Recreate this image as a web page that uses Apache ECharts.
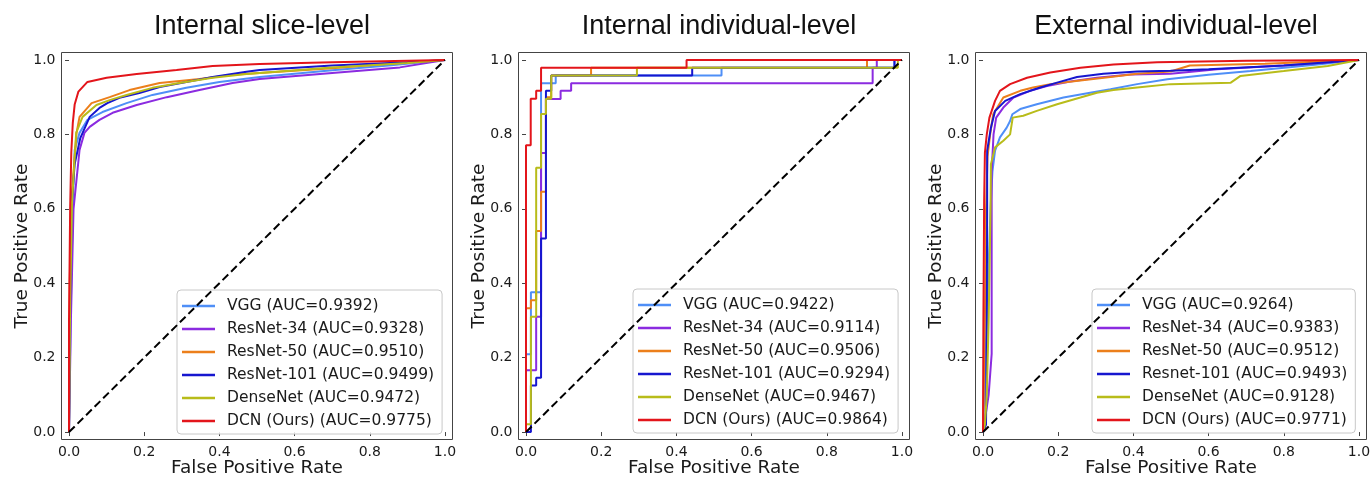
<!DOCTYPE html>
<html>
<head>
<meta charset="utf-8">
<script src="https://cdn.jsdelivr.net/npm/echarts@6/dist/echarts.min.js"></script>
<style>
  html, body { margin: 0; padding: 0; background: #fff; }
  #chart { width: 1371px; height: 480px; }
</style>
</head>
<body>
<div id="chart"></div>
<script>
// Panel titles and axis ticks
const panelTitles = ['Internal slice-level', 'Internal individual-level', 'External individual-level'];
const tickValues = [0, 0.2, 0.4, 0.6, 0.8, 1.0];

// Model names (legend order) per panel
const modelsSlice = ['VGG', 'ResNet-34', 'ResNet-50', 'ResNet-101', 'DenseNet', 'DCN (Ours)'];
const modelsInternal = ['VGG', 'ResNet-34', 'ResNet-50', 'ResNet-101', 'DenseNet', 'DCN (Ours)'];
const modelsExternal = ['VGG', 'ResNet-34', 'ResNet-50', 'Resnet-101', 'DenseNet', 'DCN (Ours)'];
const modelColors = ['#4f8ff7', '#8b2be0', '#ec7f1b', '#1616cf', '#b8bc1a', '#e3151b'];

// AUC values per panel
const aucSlice = [0.9392, 0.9328, 0.9510, 0.9499, 0.9472, 0.9775];
const aucInternal = [0.9422, 0.9114, 0.9506, 0.9294, 0.9467, 0.9864];
const aucExternal = [0.9264, 0.9383, 0.9512, 0.9493, 0.9128, 0.9771];

// ROC points [FPR, TPR] — internal slice-level
const sliceVgg = [[0,0],[0.004,0.3],[0.01,0.6],[0.015,0.758],[0.028,0.804],[0.049,0.839],[0.089,0.86],[0.153,0.884],[0.222,0.906],[0.312,0.925],[0.40,0.941],[0.507,0.954],[0.7,0.972],[0.85,0.985],[1,1]];
const sliceRes34 = [[0,0],[0.005,0.3],[0.012,0.6],[0.028,0.758],[0.041,0.804],[0.055,0.82],[0.081,0.839],[0.116,0.858],[0.18,0.879],[0.26,0.9],[0.347,0.919],[0.435,0.938],[0.507,0.949],[0.7,0.965],[0.88,0.98],[1,1]];
const sliceRes50 = [[0,0],[0.002,0.4],[0.006,0.62],[0.02,0.804],[0.028,0.847],[0.06,0.884],[0.108,0.9],[0.161,0.919],[0.241,0.938],[0.347,0.949],[0.435,0.96],[0.507,0.965],[0.7,0.978],[0.85,0.99],[1,1]];
const sliceRes101 = [[0,0],[0.003,0.35],[0.006,0.6],[0.015,0.72],[0.03,0.79],[0.055,0.847],[0.081,0.871],[0.102,0.884],[0.134,0.898],[0.187,0.911],[0.241,0.927],[0.312,0.941],[0.382,0.954],[0.472,0.968],[0.507,0.973],[0.7,0.985],[0.9,0.994],[1,1]];
const sliceDense = [[0,0],[0.003,0.35],[0.008,0.62],[0.019,0.804],[0.036,0.847],[0.073,0.879],[0.108,0.892],[0.153,0.906],[0.222,0.925],[0.294,0.938],[0.382,0.952],[0.472,0.962],[0.507,0.965],[0.7,0.98],[0.9,0.992],[1,1]];
const sliceDcn = [[0,0],[0,0.3],[0.003,0.6],[0.006,0.75],[0.01,0.83],[0.015,0.88],[0.025,0.915],[0.049,0.941],[0.1,0.952],[0.18,0.962],[0.286,0.973],[0.382,0.984],[0.507,0.989],[0.7,0.994],[1,1]];

// ROC points [FPR, TPR] — internal individual-level
const internalVgg = [[0,0],[0,0.209],[0.013,0.209],[0.013,0.376],[0.04,0.376],[0.04,0.9375],[0.079,0.9375],[0.079,0.958],[0.52,0.958],[0.52,0.979],[0.98,0.979],[0.98,1],[1,1]];
const internalRes34 = [[0,0],[0,0.166],[0.027,0.166],[0.027,0.31],[0.04,0.31],[0.04,0.75],[0.053,0.75],[0.053,0.895],[0.092,0.895],[0.092,0.917],[0.12,0.917],[0.12,0.9375],[0.922,0.9375],[0.922,0.979],[0.933,0.979],[0.933,1],[1,1]];
const internalRes50 = [[0,0],[0,0.333],[0.013,0.333],[0.013,0.354],[0.027,0.354],[0.027,0.54],[0.04,0.54],[0.04,0.646],[0.053,0.646],[0.053,0.9],[0.067,0.9],[0.067,0.958],[0.173,0.958],[0.173,0.979],[0.907,0.979],[0.907,1],[1,1]];
const internalRes101 = [[0,0],[0.013,0],[0.013,0.125],[0.027,0.125],[0.027,0.146],[0.04,0.146],[0.04,0.52],[0.053,0.52],[0.053,0.917],[0.067,0.917],[0.067,0.958],[0.442,0.958],[0.442,0.979],[0.98,0.979],[0.98,1],[1,1]];
const internalDense = [[0,0],[0,0.021],[0.013,0.021],[0.013,0.31],[0.027,0.31],[0.027,0.71],[0.04,0.71],[0.04,0.855],[0.053,0.855],[0.053,0.896],[0.067,0.896],[0.067,0.958],[0.295,0.958],[0.295,0.979],[0.989,0.979],[0.989,1],[1,1]];
const internalDcn = [[0,0],[0,0.771],[0.0125,0.771],[0.0125,0.896],[0.027,0.896],[0.027,0.917],[0.04,0.917],[0.04,0.979],[0.427,0.979],[0.427,1],[1,1]];

// ROC points [FPR, TPR] — external individual-level
const externalVgg = [[0,0],[0.01,0.3],[0.02,0.6],[0.025,0.7],[0.032,0.756],[0.045,0.792],[0.063,0.818],[0.072,0.836],[0.078,0.854],[0.099,0.868],[0.143,0.881],[0.214,0.899],[0.285,0.912],[0.339,0.921],[0.41,0.935],[0.49,0.948],[0.6,0.96],[0.712,0.97],[0.89,0.988],[1,1]];
const externalRes34 = [[0,0],[0.015,0.1],[0.023,0.21],[0.023,0.7],[0.028,0.8],[0.035,0.845],[0.054,0.872],[0.081,0.899],[0.125,0.917],[0.17,0.93],[0.232,0.942],[0.303,0.952],[0.392,0.961],[0.499,0.963],[0.623,0.975],[0.8,0.985],[1,1]];
const externalRes50 = [[0,0],[0.005,0.3],[0.008,0.6],[0.012,0.74],[0.019,0.8],[0.027,0.854],[0.054,0.899],[0.099,0.917],[0.133,0.926],[0.179,0.935],[0.259,0.945],[0.339,0.954],[0.41,0.963],[0.499,0.969],[0.55,0.985],[0.75,0.99],[1,1]];
const externalRes101 = [[0,0],[0.008,0.02],[0.01,0.3],[0.011,0.6],[0.011,0.756],[0.021,0.818],[0.032,0.863],[0.059,0.89],[0.099,0.908],[0.152,0.926],[0.197,0.939],[0.25,0.954],[0.32,0.963],[0.41,0.969],[0.499,0.971],[0.6,0.975],[0.8,0.985],[1,1]];
const externalDense = [[0,0],[0.005,0.02],[0.01,0.1],[0.015,0.3],[0.02,0.6],[0.021,0.72],[0.032,0.765],[0.054,0.783],[0.072,0.8],[0.079,0.845],[0.107,0.85],[0.143,0.863],[0.197,0.881],[0.259,0.899],[0.303,0.912],[0.347,0.919],[0.41,0.926],[0.499,0.935],[0.659,0.939],[0.685,0.957],[0.8,0.97],[0.917,0.984],[1,1]];
const externalDcn = [[0,0],[0.001,0.3],[0.003,0.62],[0.005,0.75],[0.01,0.8],[0.017,0.845],[0.032,0.89],[0.045,0.917],[0.072,0.935],[0.117,0.952],[0.179,0.966],[0.259,0.979],[0.347,0.988],[0.463,0.994],[0.7,0.998],[1,1]];

const chanceLine = [[0,0],[1,1]];

const panels = [
  { names: modelsSlice, auc: aucSlice, curves: [sliceVgg, sliceRes34, sliceRes50, sliceRes101, sliceDense, sliceDcn] },
  { names: modelsInternal, auc: aucInternal, curves: [internalVgg, internalRes34, internalRes50, internalRes101, internalDense, internalDcn] },
  { names: modelsExternal, auc: aucExternal, curves: [externalVgg, externalRes34, externalRes50, externalRes101, externalDense, externalDcn] }
];

// Layout of the three plot frames
const frameLeft = [61.5, 518.5, 975.5];
const frameWidth = 391;
const frameTop = 52.5;
const frameHeight = 387;
const legendPos = [[177, 290], [633, 289], [1092, 289]];

const baseFont = 'DejaVu Sans';
const textColor = '#1a1a1a';

const grids = [], xAxes = [], yAxes = [], titles = [], legends = [], series = [];

panels.forEach((panel, p) => {
  grids.push({
    left: frameLeft[p], top: frameTop, width: frameWidth, height: frameHeight,
    outerBoundsMode: 'none', containLabel: false,
    show: true, borderColor: '#444', borderWidth: 1, backgroundColor: '#fff'
  });
  const axisCommon = {
    type: 'value', min: -0.02, max: 1.02, gridIndex: p,
    nameLocation: 'middle', nameMoveOverlap: false,
    nameTextStyle: { fontFamily: baseFont, fontSize: 18.5, color: textColor },
    axisLine: { show: false },
    splitLine: { show: false },
    axisTick: { show: true, inside: false, length: 4, customValues: tickValues, lineStyle: { color: '#444', width: 1 } },
    axisLabel: {
      customValues: tickValues, margin: 6,
      fontFamily: baseFont, fontSize: 14, color: textColor,
      formatter: v => v.toFixed(1)
    }
  };
  xAxes.push(Object.assign({}, axisCommon, { name: 'False Positive Rate', nameGap: 19, position: 'bottom' }));
  yAxes.push(Object.assign({}, axisCommon, { name: 'True Positive Rate', nameGap: 30, position: 'left' }));

  titles.push({
    text: panelTitles[p],
    left: frameLeft[p] + frameWidth / 2, top: 8, textAlign: 'center',
    textStyle: { fontFamily: 'Liberation Sans', fontSize: 27, fontWeight: 'normal', color: '#111' }
  });

  const legendNames = [];
  panel.names.forEach((name, m) => {
    const label = name + ' (AUC=' + panel.auc[m].toFixed(4) + ')';
    legendNames.push(label);
    series.push({
      type: 'line', name: label, xAxisIndex: p, yAxisIndex: p,
      data: panel.curves[m], showSymbol: false, symbol: 'none',
      lineStyle: { color: modelColors[m], width: 2 },
      itemStyle: { color: modelColors[m] },
      z: 2 + m
    });
  });
  series.push({
    type: 'line', name: 'chance', xAxisIndex: p, yAxisIndex: p,
    data: chanceLine, showSymbol: false, symbol: 'none', silent: true,
    lineStyle: { color: '#000', width: 2, type: [8, 4] }, z: 10
  });

  legends.push({
    data: legendNames, orient: 'vertical',
    left: legendPos[p][0], top: legendPos[p][1],
    icon: 'rect', itemWidth: 33, itemHeight: 2.5, itemGap: 5,
    padding: [7, 8, 4, 5],
    backgroundColor: 'rgba(255,255,255,0.85)',
    borderColor: '#c8c8c8', borderWidth: 1, borderRadius: 4,
    textStyle: { fontFamily: baseFont, fontSize: 15.5, color: textColor, padding: [0, 0, 0, 7], lineHeight: 18 }
  });
});

const chart = echarts.init(document.getElementById('chart'), null, { renderer: 'canvas' });
chart.setOption({
  animation: false,
  backgroundColor: '#fff',
  title: titles,
  grid: grids,
  xAxis: xAxes,
  yAxis: yAxes,
  legend: legends,
  series: series
});
</script>
</body>
</html>
